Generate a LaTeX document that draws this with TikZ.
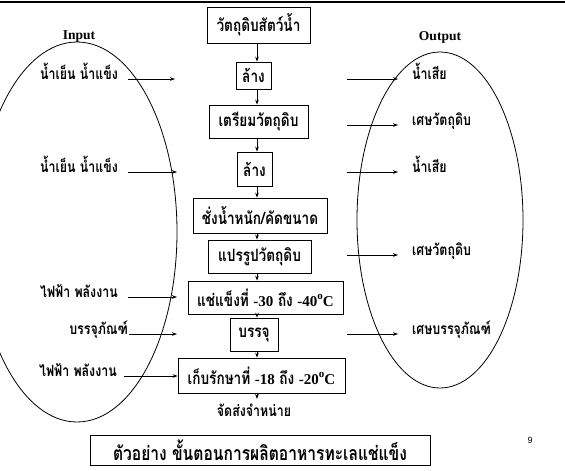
\documentclass[tikz,border=0pt]{standalone}
\usepackage{fontspec}
\setmainfont{Liberation Serif}
\newfontfamily\thaif[Script=Thai, FakeStretch=0.8]{Loma}
\newfontfamily\ninef{Liberation Sans}
\usetikzlibrary{arrows.meta}
\newcommand\degc{\raisebox{0.42em}{\fontsize{11pt}{11pt}\selectfont o}C}
\tikzset{
  ln/.style={line width=0.7pt},
  arr/.style={ln,-{Stealth[length=5pt,width=3.6pt]}},
  pbox/.style={draw, line width=0.8pt, inner sep=0pt, font=\thaif\bfseries\fontsize{17pt}{19pt}\selectfont},
  lbl/.style={inner sep=0pt, font=\thaif\bfseries\fontsize{15.5pt}{17pt}\selectfont},
  eng/.style={inner sep=0pt, font=\bfseries\fontsize{13.5pt}{15pt}\selectfont},
}
\begin{document}
\begin{tikzpicture}[x=1pt,y=-1pt]
\useasboundingbox (0,0) rectangle (565,471);
\fill[white] (0,0) rectangle (565,471);
\begin{scope}
\clip (0,0) rectangle (565,471);
% top rule
\draw[line width=2.5pt] (0,2) -- (565,2);
% ellipses
\draw[line width=0.8pt] (77,232) ellipse [x radius=100, y radius=190];
\draw[line width=0.8pt] (440,220) ellipse [x radius=83, y radius=168];
\end{scope}
\node[eng] (inp) at (79,37) {Input};
\node[eng] (outp) at (440,37) {Output};
% process boxes
\node[pbox, minimum width=103pt, minimum height=36pt] (b1) at (258.5,25) {วัตถุดิบสัตว์น้ำ};
\node[pbox, minimum width=35pt, minimum height=27pt] (b2) at (253.5,75.5) {ล้าง};
\node[pbox, minimum width=99pt, minimum height=33pt] (b3) at (258.5,121.5) {เตรียมวัตถุดิบ};
\node[pbox, minimum width=35pt, minimum height=34pt] (b4) at (254.5,169) {ล้าง};
\node[pbox, minimum width=134pt, minimum height=35pt] (b5) at (260,215.5) {ชั่งน้ำหนัก/คัดขนาด};
\node[pbox, minimum width=103pt, minimum height=33pt] (b6) at (259.5,256.5) {แปรรูปวัตถุดิบ};
\node[pbox, minimum width=155pt, minimum height=33pt] (b7) at (265.5,297.5) {แช่แข็งที่ {\rmfamily\fontsize{15pt}{17pt}\selectfont -30} ถึง {\rmfamily\fontsize{15pt}{17pt}\selectfont -40\degc}};
\node[pbox, minimum width=48pt, minimum height=33pt] (b8) at (254,334.5) {บรรจุ};
\node[pbox, minimum width=167pt, minimum height=35pt] (b9) at (261.5,375.5) {เก็บรักษาที่ {\rmfamily\fontsize{15pt}{17pt}\selectfont -18} ถึง {\rmfamily\fontsize{15pt}{17pt}\selectfont -20\degc}};
\node[lbl] (dist) at (254,410) {จัดส่งจำหน่าย};
\coordinate (col) at (257,0);
\coordinate (distin) at (257,399);
\draw[arr] (b1.south -| col) -- (b2.north -| col);
\draw[arr] (b2.south -| col) -- (b3.north -| col);
\draw[arr] (b3.south -| col) -- (b4.north -| col);
\draw[arr] (b4.south -| col) -- (b5.north -| col);
\draw[arr] (b5.south -| col) -- (b6.north -| col);
\draw[arr] (b6.south -| col) -- (b7.north -| col);
\draw[arr] (b7.south -| col) -- (b8.north -| col);
\draw[arr] (b8.south -| col) -- (b9.north -| col);
\draw[arr] (b9.south -| col) -- (distin);
% inputs
\node[lbl, anchor=base east] (l1) at (118,79) {น้ำเย็น น้ำแข็ง};
\node[lbl, anchor=base east] (l2) at (118,172) {น้ำเย็น น้ำแข็ง};
\node[lbl, anchor=base east] (l3) at (118,297) {ไฟฟ้า พลังงาน};
\node[lbl, anchor=base east] (l4) at (128,334) {บรรจุภัณฑ์};
\node[lbl, anchor=base east] (l5) at (117,376) {ไฟฟ้า พลังงาน};
\coordinate (e1) at (175,79);
\coordinate (e2) at (177,172);
\coordinate (e3) at (177,297);
\coordinate (e4) at (177,334);
\draw[arr, shorten <=10pt] (l1.base east) -- (e1);
\draw[arr, shorten <=10pt] (l2.base east) -- (e2);
\draw[arr, shorten <=10pt] (l3.base east) -- (e3);
\draw[arr, shorten <=1pt] (l4.base east) -- (e4);
\draw[arr, shorten <=7pt] (l5.base east) -- (l5.base east -| b9.west);
% outputs
\node[lbl, anchor=base west] (r1) at (412,79) {น้ำเสีย};
\node[lbl, anchor=base west] (r2) at (412,125) {เศษวัตถุดิบ};
\node[lbl, anchor=base west] (r3) at (412,172) {น้ำเสีย};
\node[lbl, anchor=base west] (r4) at (412,255) {เศษวัตถุดิบ};
\node[lbl, anchor=base west] (r5) at (412,334) {เศษบรรจุภัณฑ์};
\coordinate (s1) at (347,79);
\coordinate (s2) at (347,125);
\coordinate (s3) at (347,172);
\coordinate (s4) at (347,255);
\coordinate (s5) at (347,334);
\draw[arr, shorten >=14pt] (s1) -- (r1.base west);
\draw[arr, shorten >=14pt] (s2) -- (r2.base west);
\draw[arr, shorten >=14pt] (s3) -- (r3.base west);
\draw[arr, shorten >=14pt] (s4) -- (r4.base west);
\draw[arr, shorten >=14pt] (s5) -- (r5.base west);
% title
\node[draw, line width=0.8pt, minimum width=340pt, minimum height=30pt, inner sep=0pt,
  font=\thaif\bfseries\fontsize{19.5pt}{21pt}\selectfont] (title) at (260,450) {ตัวอย่าง ขั้นตอนการผลิตอาหารทะเลแช่แข็ง};
\node[font=\ninef\fontsize{9pt}{10pt}\selectfont, inner sep=0pt] (pg) at (530,440) {9};
\end{tikzpicture}
\end{document}
